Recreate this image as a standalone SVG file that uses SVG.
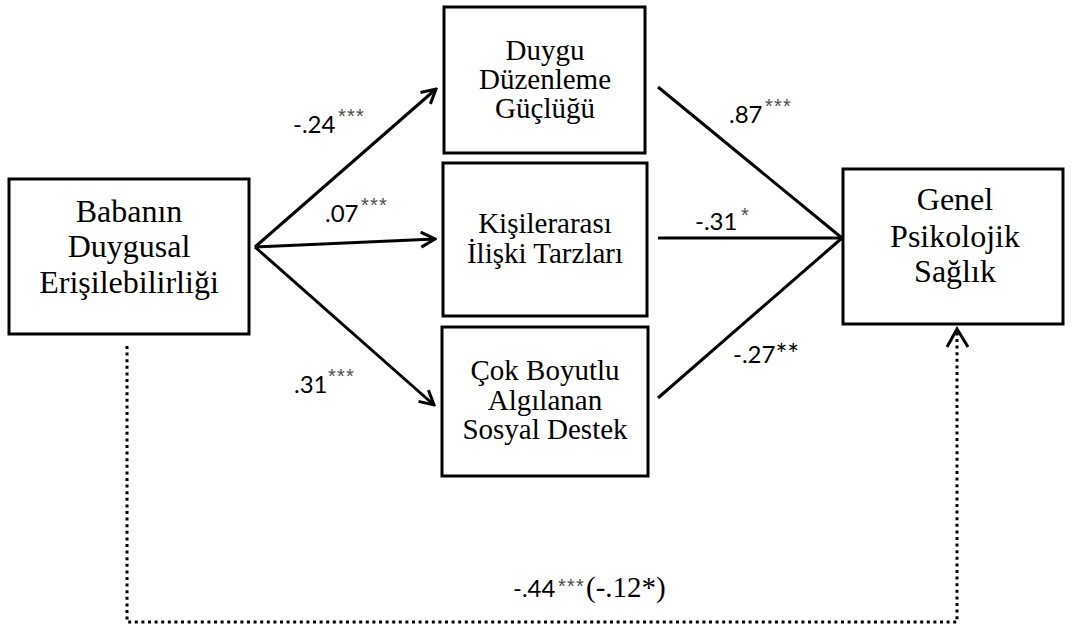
<svg xmlns="http://www.w3.org/2000/svg" width="1084" height="627" viewBox="0 0 1084 627">
  <style>
    .box { fill: #ffffff; stroke: #000000; stroke-width: 3; }
    .node { font-family: "Liberation Serif", "Times New Roman", serif; fill: #000000; text-anchor: middle; }
    .big { font-size: 32px; }
    .mid { font-size: 29px; }
    .coef { font-family: Lato, "Open Sans", sans-serif; font-size: 24px; fill: #000000; }
    .sig { font-family: "Liberation Sans", Arial, sans-serif; font-size: 20px; fill: #4d4d4d; letter-spacing: 1.2px; }
    .star { font-size: 28px; }
    .edge { fill: none; stroke: #000000; stroke-width: 3; }
    .dotted { fill: none; stroke: #000000; stroke-width: 3; stroke-dasharray: 3 3.6; }
  </style>
  <defs>
    <marker id="chevron" viewBox="0 0 18 18" refX="16" refY="9" markerWidth="18" markerHeight="18" markerUnits="userSpaceOnUse" orient="auto">
      <path d="M2,1.5 L16,9 L2,16.5" fill="none" stroke="#000000" stroke-width="3" stroke-linejoin="miter"/>
    </marker>
  </defs>

  <rect width="1084" height="627" fill="#ffffff"/>

  <!-- connectors -->
  <g id="connectors">
    <line class="edge" x1="255" y1="247" x2="436" y2="89" marker-end="url(#chevron)"/>
    <line class="edge" x1="255" y1="247" x2="435" y2="239" marker-end="url(#chevron)"/>
    <line class="edge" x1="255" y1="247" x2="434" y2="405" marker-end="url(#chevron)"/>
    <line class="edge" x1="658" y1="87" x2="842" y2="238"/>
    <line class="edge" x1="658" y1="238" x2="842" y2="238"/>
    <line class="edge" x1="658" y1="398" x2="842" y2="238"/>
    <polyline class="dotted" points="127,346 127,622 957,622 957,331"/>
    <polyline class="edge" points="947,347 957,329 968,347"/>
  </g>

  <!-- coefficient labels -->
  <g id="labels">
    <text class="coef" x="293" y="133">-.24</text><text class="sig" x="338" y="123">***</text>
    <text class="coef" x="325" y="222">.07</text><text class="sig" x="361" y="212">***</text>
    <text class="coef" x="294" y="393">.31</text><text class="sig" x="328" y="383">***</text>
    <text class="coef" x="729" y="123">.87</text><text class="sig" x="765" y="113">***</text>
    <text class="coef" x="695" y="230">-.31</text><text class="sig" x="741" y="222">*</text>
    <text class="coef" x="733" y="363">-.27<tspan class="star" dy="2">**</tspan></text>
    <text class="coef" x="513" y="597">-.44</text><text class="sig" x="558" y="593">***</text>
    <text class="node mid" x="586" y="597" style="text-anchor:start">(-.12*)</text>
  </g>

  <g id="node-baba">
    <rect class="box" x="9" y="179" width="240" height="155"/>
    <text class="node big" x="129" y="222">Babanın</text>
    <text class="node big" x="129" y="257">Duygusal</text>
    <text class="node big" x="129" y="293">Erişilebilirliği</text>
  </g>

  <g id="node-duygu">
    <rect class="box" x="444" y="7" width="201" height="146"/>
    <text class="node mid" x="545" y="60">Duygu</text>
    <text class="node mid" x="545" y="89">Düzenleme</text>
    <text class="node mid" x="545" y="118">Güçlüğü</text>
  </g>

  <g id="node-kisiler">
    <rect class="box" x="443" y="163" width="204" height="153"/>
    <text class="node mid" x="545" y="233">Kişilerarası</text>
    <text class="node mid" x="545" y="263">İlişki Tarzları</text>
  </g>

  <g id="node-destek">
    <rect class="box" x="442" y="327" width="206" height="149"/>
    <text class="node mid" x="545" y="380">Çok Boyutlu</text>
    <text class="node mid" x="545" y="410">Algılanan</text>
    <text class="node mid" x="545" y="439">Sosyal Destek</text>
  </g>

  <g id="node-genel">
    <rect class="box" x="843" y="169" width="220" height="155"/>
    <text class="node big" x="955" y="210">Genel</text>
    <text class="node big" x="955" y="247">Psikolojik</text>
    <text class="node big" x="955" y="282">Sağlık</text>
  </g>
</svg>
